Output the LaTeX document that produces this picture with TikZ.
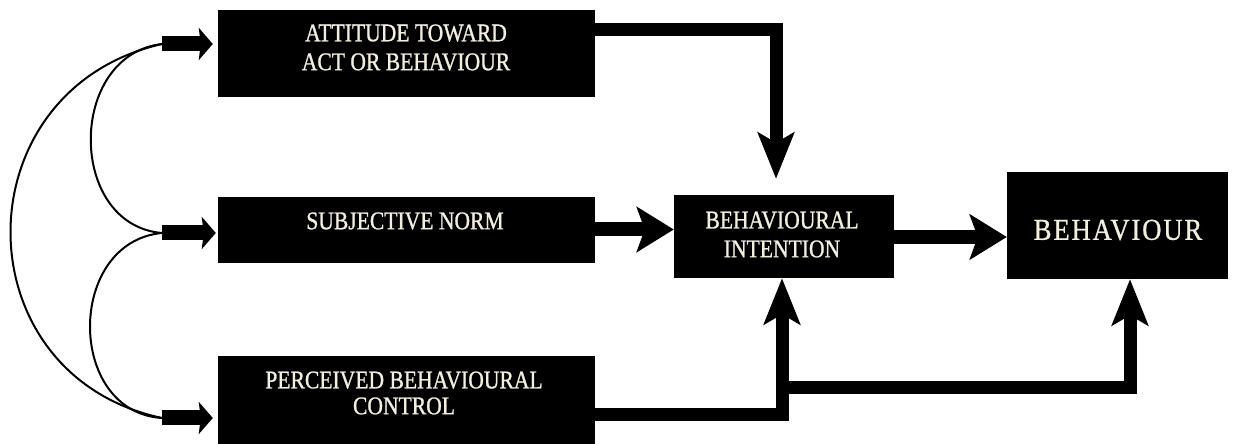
\documentclass[tikz,border=0pt]{standalone}
\usepackage{fontspec}
\setmainfont{Liberation Serif}[FakeStretch=0.85,FakeBold=1]
\newfontfamily\widefont{Liberation Serif}[FakeStretch=0.88,LetterSpace=6,FakeBold=0.8]
\usetikzlibrary{arrows.meta}
\definecolor{cream}{RGB}{242,238,224}
\begin{document}
\begin{tikzpicture}[x=1bp,y=-1bp,
  box/.style={fill=black,draw=none,inner sep=0pt},
  boxtext/.style={text=cream,align=center,inner sep=0pt,
    font=\fontsize{25.5}{29}\selectfont},
  flowh/.style={line width=14bp,line join=miter,
    -{Stealth[length=37bp,width=45bp,inset=8bp]}},
  flowv/.style={line width=13bp,line join=miter,
    -{Stealth[length=46bp,width=36bp,inset=10bp]}},
  feed/.style={line width=15bp,
    -{Stealth[length=14bp,width=32bp,inset=2bp]}},
  link/.style={line width=2bp}]
\useasboundingbox (0,0) rectangle (1233,444);

% boxes
\node[box,minimum width=377bp,minimum height=87bp] (att) at (406.5,53.5) {};
\node[box,minimum width=377bp,minimum height=66bp] (sn)  at (406.5,230) {};
\node[box,minimum width=377bp,minimum height=88bp] (pbc) at (406.5,400) {};
\node[box,minimum width=220bp,minimum height=83bp] (bi)  at (784,236.5) {};
\node[box,minimum width=221bp,minimum height=107bp] (beh) at (1117.5,225.5) {};

% box texts
\node[boxtext] (attT) at (406,47.5) {ATTITUDE TOWARD\\ACT OR BEHAVIOUR};
\node[boxtext] (snT)  at (405,221) {SUBJECTIVE NORM};
\node[boxtext] (pbcT) at (404,393) {PERCEIVED BEHAVIOURAL\\[-3bp]CONTROL};
\node[boxtext] (biT)  at (782,234.5) {BEHAVIOURAL\\INTENTION};
\node[text=cream,inner sep=0pt,font=\widefont\fontsize{30.5}{34}\selectfont]
  (behT) at (1118,230) {BEHAVIOUR};

% tails of the feed arrows on the left
\coordinate (ta) at (162,44);
\coordinate (ts) at (162,233);
\coordinate (tp) at (162,418);

% correlation curves
\draw[link] (ta) .. controls (-40,90) and (-40,375) .. (tp);
\draw[link] (ta) .. controls (67,55) and (67,225) .. (ts);
\draw[link] (ts) .. controls (66,242) and (66,412) .. (tp);

% feed arrows into the three predictors
\draw[feed,shorten >=5bp] (ta) -- (ta -| att.west);
\draw[feed,shorten >=2bp] (ts) -- (ts -| sn.west);
\draw[feed,shorten >=5bp] (tp) -- (tp -| pbc.west);

% predictors to intention
\draw[flowv,shorten >=16bp] (att.east |- 0,30) -| (bi.north -| 776,0);
\draw[flowh] (sn.east |- 0,229.5) -- (bi.west |- 0,229.5);
\draw[flowv] (pbc.east |- 0,415) -| (bi.south -| 782,0);
\coordinate (jn) at (782,388);
\draw[flowv] (jn) -| (beh.south -| 1130,0);

% intention to behaviour
\draw[flowh] (bi.east |- 0,237) -- (beh.west |- 0,237);
\end{tikzpicture}
\end{document}
